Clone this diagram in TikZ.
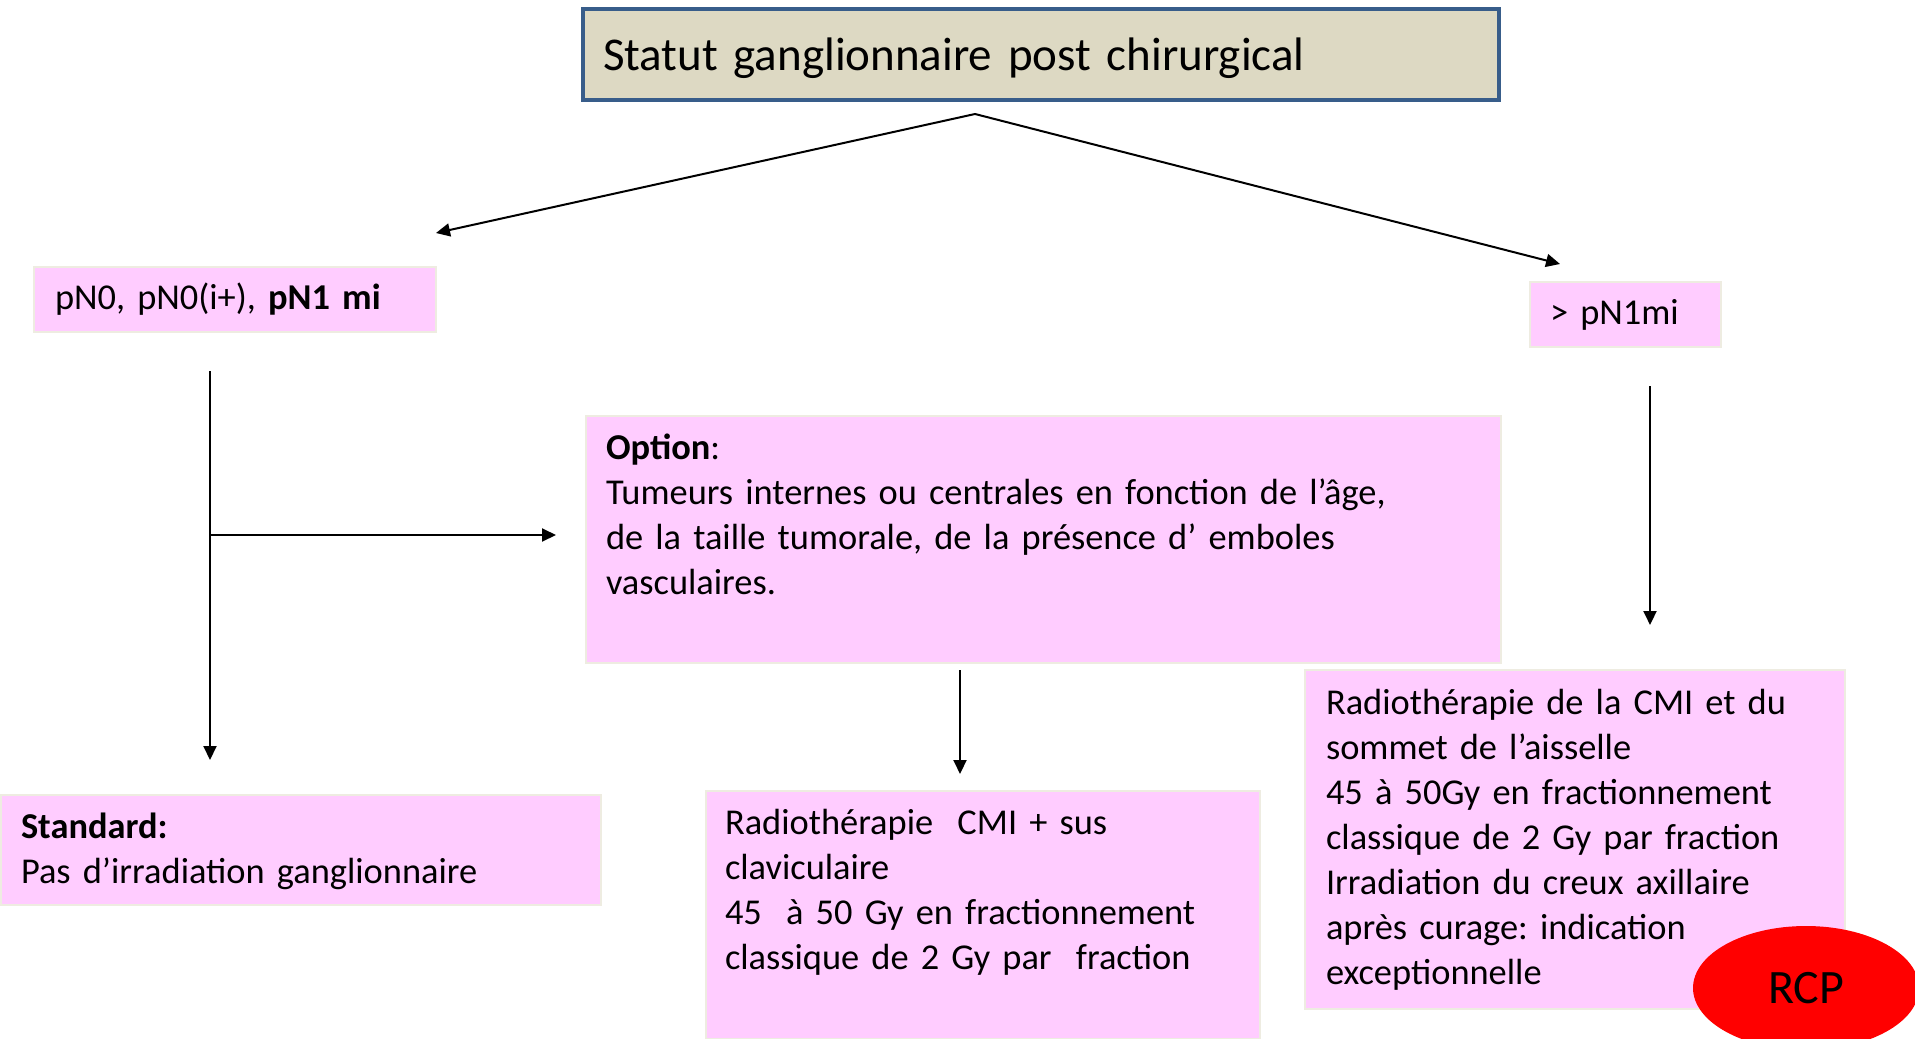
\documentclass[tikz,border=0pt]{standalone}
\usepackage{fontspec}
\setmainfont{Carlito}
\usetikzlibrary{arrows.meta}
\usetikzlibrary{shapes.geometric}

\definecolor{titlefill}{HTML}{DDD9C3}
\definecolor{titleline}{HTML}{385D8A}
\definecolor{pinkfill}{HTML}{FFCCFF}
\definecolor{pinkline}{HTML}{EEECE1}

\newcommand{\boxfont}{\fontsize{18.2}{22.5}\selectfont\setlength{\spaceskip}{4pt plus 1pt}}

\begin{document}
\frenchspacing
\begin{tikzpicture}[
            x = 0.5pt,
            y = -0.5pt,
            box/.style = {
                draw = pinkline,
                line width = 1pt,
                fill = pinkfill,
                anchor = north west,
                align = left,
                inner ysep = 0pt,
                font = \boxfont
            },
            titlebox/.style = {
                box,
                draw = titleline,
                line width = 2pt,
                fill = titlefill,
                font = \fontsize{23.5}{27}\selectfont
            },
            arr/.style = {
                line width = 1pt,
                -{Triangle[length=7pt, width=6.5pt]}
            }
            ]
            \useasboundingbox (0,0) rectangle (1915,1038);

            \node[titlebox, inner xsep=10pt, text width=438pt, text height=31pt, text depth=14.5pt] (title) at (581,7)
                {Statut ganglionnaire post chirurgical};

            \node[box, inner xsep=10.5pt, text width=180pt, text height=21pt, text depth=11.5pt] (pn0) at (33,266)
                {pN0, pN0(i+), \textbf{pN1 mi}};
            \node[box, inner xsep=10pt, text width=75.5pt, text height=21pt, text depth=11.5pt] (gt) at (1529,281)
                {> pN1mi};

            \node[box, inner xsep=10pt, text width=437.5pt, text height=21.5pt, text depth=102pt] (opt) at (585,415)
                {\textbf{Option}:\\
                Tumeurs internes ou centrales en fonction de l’âge,\\
                de la taille tumorale, de la présence d’ emboles\\
                vasculaires.};

            \node[box, inner xsep=10pt, text width=280pt, text height=21.5pt, text depth=33.5pt] (std) at (0,794)
                {\textbf{Standard:}\\
                Pas d’irradiation ganglionnaire};
            \node[box, inner xsep=9.5pt, text width=258pt, text height=21.5pt, text depth=102.5pt] (cmi) at (705,790)
                {Radiothérapie\ \ CMI + sus\\
                claviculaire\\
                45\ \ à 50 Gy en fractionnement\\
                classique de 2 Gy par\ \ fraction};
            \node[box, inner xsep=10.5pt, text width=249pt, text height=22pt, text depth=147.5pt] (rt) at (1304,669)
                {Radiothérapie de la CMI et du\\
                sommet de l’aisselle\\
                45 à 50Gy en fractionnement\\
                classique de 2 Gy par fraction\\
                Irradiation du creux axillaire\\
                après curage: indication\\
                exceptionnelle};

            \node[ellipse, fill=red, minimum width=113pt, minimum height=62pt, inner sep=0pt,
                font=\fontsize{24}{28}\selectfont] (rcp) at (1806,988) {RCP};

            % arrow ends
            \coordinate (fork) at (975,114);
            \coordinate (forkl) at (436,233);
            \coordinate (forkr) at (1560,264);
            \coordinate (ltop) at (210,371);
            \coordinate (lmid) at (210,535);
            \coordinate (lbot) at (210,760);
            \coordinate (lopt) at (556,535);
            \coordinate (otop) at (960,670);
            \coordinate (obot) at (960,774);
            \coordinate (rtop) at (1650,386);
            \coordinate (rbot) at (1650,625);

            \draw[arr] (fork) -- (forkl);
            \draw[arr] (fork) -- (forkr);
            \draw[arr] (ltop) -- (lbot);
            \draw[arr] (lmid) -- (lopt);
            \draw[arr] (otop) -- (obot);
            \draw[arr] (rtop) -- (rbot);
        \end{tikzpicture}
\end{document}
